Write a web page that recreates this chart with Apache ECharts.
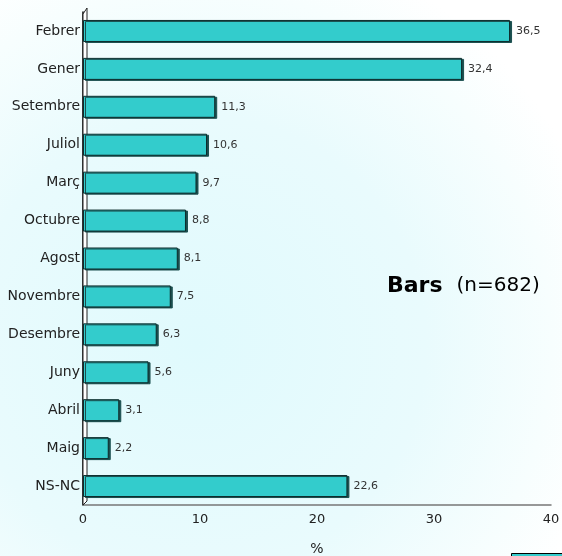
<!DOCTYPE html>
<html>
<head>
<meta charset="utf-8">
<script src="https://cdn.jsdelivr.net/npm/echarts@6/dist/echarts.min.js"></script>
<style>html,body{margin:0;padding:0;background:#fff}#c{width:562px;height:556px}</style>
</head>
<body>
<div id="c"></div>
<script>
const categories = ['Febrer','Gener','Setembre','Juliol','Març','Octubre','Agost','Novembre','Desembre','Juny','Abril','Maig','NS-NC'];
const values = [36.5,32.4,11.3,10.6,9.7,8.8,8.1,7.5,6.3,5.6,3.1,2.2,22.6];
const xTicks = [0,10,20,30,40];
const titleMain = 'Bars';
const titleSub = '(n=682)';
const axisName = '%';

const chart = echarts.init(document.getElementById('c'), null, {renderer:'canvas'});
const option = {
  backgroundColor: {
    type:'radial', x:0.35, y:0.62, r:0.75,
    colorStops:[{offset:0,color:'#e0fafd'},{offset:0.55,color:'#e9fbfd'},{offset:0.85,color:'#f7fefe'},{offset:1,color:'#ffffff'}]
  },
  animation:false,
  title:{
    text:'{b|'+titleMain+'}{n|'+titleSub+'}',
    left:382, top:270,
    textStyle:{rich:{
      b:{fontFamily:'DejaVu Sans',fontWeight:'bold',fontSize:22,color:'#000'},
      n:{fontFamily:'DejaVu Sans',fontWeight:'normal',fontSize:20,color:'#000',padding:[0,0,0,14]}
    }}
  },
  legend:{
    show:true, left:506, top:548, itemWidth:60, itemHeight:20,
    formatter:function(){return '';},
    data:[{name:'Bars',icon:'rect'}],
    itemStyle:{borderColor:'#000',borderWidth:1}
  },
  grid:{left:83,right:11,top:12,bottom:51,containLabel:false,outerBoundsMode:'none'},
  xAxis:{
    type:'value', min:xTicks[0], max:xTicks[xTicks.length-1], interval:10,
    name:axisName, nameLocation:'middle', nameGap:37,
    nameTextStyle:{fontFamily:'DejaVu Sans',fontSize:14,color:'#222'},
    axisLine:{show:true,lineStyle:{color:'#777',width:1.5}},
    axisTick:{show:false},
    splitLine:{show:false},
    axisLabel:{fontFamily:'DejaVu Sans',fontSize:13,color:'#222',margin:8}
  },
  yAxis:{
    type:'category', data:categories, inverse:true,
    axisLine:{show:true,lineStyle:{color:'#000',width:1.5}},
    axisTick:{show:false},
    axisLabel:{fontFamily:'DejaVu Sans',fontSize:14,color:'#222',margin:3}
  },
  series:[{
    name:'Bars', type:'bar', data:values, barWidth:22, z:3,
    itemStyle:{color:'#33CCCC',borderColor:'#0d2b2b',borderWidth:1,
      shadowColor:'#1b4f4f',shadowOffsetX:2,shadowOffsetY:1,shadowBlur:0},
    label:{show:true,position:'right',distance:6,
      fontFamily:'DejaVu Sans',fontSize:11,color:'#333',
      formatter:function(p){return String(p.value).replace('.',',');}}
  }]
};
chart.setOption(option);
// decorative 3D wall along the category axis, derived from the grid's rect
const rect = chart.getModel().getComponent('grid',0).coordinateSystem.getRect();
const x0 = rect.x, yT = rect.y, yB = rect.y + rect.height;
chart.setOption({
  graphic:[{
    type:'polygon', z:1, silent:true,
    shape:{points:[[x0,yB],[x0,yT+2],[x0+4,yT-4],[x0+4,yB-4]]},
    style:{fill:'#ffffff',stroke:'#222',lineWidth:1}
  }]
});
</script>
</body>
</html>
